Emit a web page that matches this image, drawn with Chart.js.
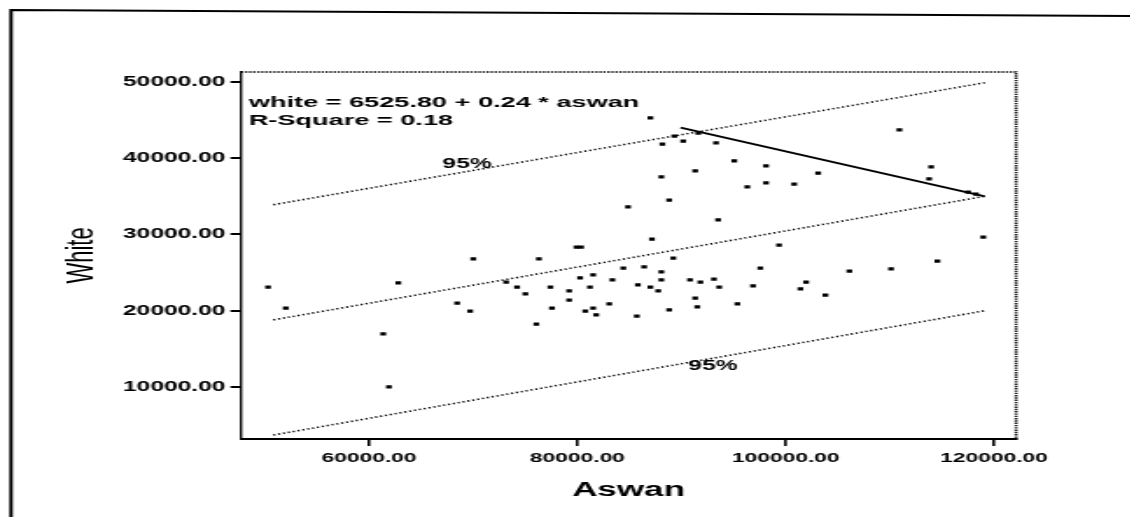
<!DOCTYPE html>
<html lang="en">
<head>
<meta charset="UTF-8" />
<title>White vs Aswan</title>
<script src="https://cdn.jsdelivr.net/npm/chart.js@4.4.1/dist/chart.umd.min.js"></script>
<style>
  html, body { margin: 0; padding: 0; background: #fff; overflow: hidden; }
  /* the scanned chart is stretched sideways, so the whole canvas is too */
  #wrap { width: 646px; height: 517px; transform: scaleX(1.75); transform-origin: 0 0; }
</style>
</head>
<body>
<div id="wrap"><canvas id="myChart" width="646" height="517"></canvas></div>
<script>
// scatter points (Aswan, White)
const aswan = [50300, 52000, 62800, 61350, 61900, 70000, 76300, 79900, 80350, 68450,
  69700, 73150, 74200, 75000, 76050, 77400, 77550, 79200, 79200, 80250,
  81500, 81200, 80750, 81500, 81800, 83050, 83350, 84400, 85800, 85700,
  84850, 87000, 89300, 88150, 90150, 91600, 93300, 95050, 91300, 98100,
  88050, 103100, 98100, 96300, 100800, 88800, 93500, 87150, 99350, 89200,
  110900, 113950, 113750, 117500, 118250, 118950, 114550, 110100, 97550, 86400,
  106100, 88050, 87000, 88050, 87750, 90800, 91800, 93100, 93600, 96850,
  101950, 101400, 103800, 88800, 91300, 91500, 95350];
const white = [23100, 20350, 23650, 16950, 10000, 26800, 26800, 28350, 28350, 21000,
  19950, 23750, 23100, 22200, 18250, 23100, 20350, 22600, 21400, 24300,
  24700, 23100, 19950, 20350, 19450, 20900, 24050, 25600, 23400, 19300,
  33600, 45300, 42900, 41850, 42250, 43300, 42000, 39650, 38350, 39000,
  37550, 38050, 36750, 36250, 36600, 34500, 31900, 29400, 28600, 26900,
  43700, 38850, 37300, 35550, 35300, 29650, 26500, 25500, 25600, 25750,
  25200, 25100, 23100, 24050, 22600, 24050, 23750, 24150, 23100, 23250,
  23750, 22850, 22050, 20100, 21650, 20500, 20900];

// fit line and 95% bands (end points)
const lineX = [50800, 119100];
const fitY = [18800, 35000];
const upperY = [33900, 49900];
const lowerY = [3700, 20000];
// the solid hand-drawn stroke
const strokeX = [89900, 119100];
const strokeY = [44000, 35000];

const xTicks = [60000, 80000, 100000, 120000];
const yTicks = [10000, 20000, 30000, 40000, 50000];

const equation = ['white = 6525.80 + 0.24 * aswan', 'R-Square = 0.18'];
const eqAt = [48450, 48300, 45900];     // x, top of line 1, top of line 2
const bandLabel = '95%';
const upperLabelAt = [69400, 39250];
const lowerLabelAt = [93000, 12750];

const FONT = '"Liberation Sans", Arial, sans-serif';

const pts = (xs, ys) => xs.map((v, i) => ({ x: v, y: ys[i] }));

const dotted = {
  type: 'line', showLine: true, pointRadius: 0, borderColor: '#000',
  borderWidth: 1.6, borderDash: [1.2, 1.7], fill: false
};

const frame = {
  id: 'frame',
  afterDraw(chart) {
    const { ctx, chartArea: a, scales: { x, y } } = chart;
    ctx.save();
    ctx.strokeStyle = '#000';
    // page box
    ctx.lineWidth = 2;
    ctx.beginPath();
    ctx.moveTo(6.3, 517);
    ctx.lineTo(6.3, 10);
    ctx.lineTo(646, 16);
    ctx.stroke();
    // dotted top and right edge of the plot
    ctx.lineWidth = 1.6;
    ctx.setLineDash([1.4, 0.9]);
    ctx.beginPath();
    ctx.moveTo(a.left, a.top);
    ctx.lineTo(a.right, a.top);
    ctx.lineTo(a.right, a.bottom);
    ctx.stroke();
    ctx.setLineDash([]);

    ctx.fillStyle = '#000';
    ctx.font = 'bold 15.5px ' + FONT;
    ctx.textAlign = 'left';
    ctx.textBaseline = 'top';
    ctx.fillText(equation[0], x.getPixelForValue(eqAt[0]), y.getPixelForValue(eqAt[1]));
    ctx.fillText(equation[1], x.getPixelForValue(eqAt[0]), y.getPixelForValue(eqAt[2]));

    ctx.font = 'bold 14px ' + FONT;
    ctx.textAlign = 'center';
    ctx.textBaseline = 'middle';
    ctx.fillText(bandLabel, x.getPixelForValue(upperLabelAt[0]), y.getPixelForValue(upperLabelAt[1]));
    ctx.fillText(bandLabel, x.getPixelForValue(lowerLabelAt[0]), y.getPixelForValue(lowerLabelAt[1]));
    ctx.restore();
  }
};

const ctx = document.getElementById('myChart').getContext('2d');
new Chart(ctx, {
  type: 'scatter',
  data: {
    datasets: [
      { data: pts(aswan, white), pointStyle: 'rect', pointRadius: 2.3,
        backgroundColor: '#000', borderWidth: 0 },
      { ...dotted, data: pts(lineX, fitY) },
      { ...dotted, data: pts(lineX, upperY) },
      { ...dotted, data: pts(lineX, lowerY) },
      { type: 'line', showLine: true, pointRadius: 0, borderColor: '#000',
        borderWidth: 1.8, data: pts(strokeX, strokeY) }
    ]
  },
  options: {
    responsive: false,
    animation: false,
    layout: { padding: { left: 0, top: 72, right: 65.4, bottom: 0 } },
    plugins: { legend: { display: false }, tooltip: { enabled: false } },
    scales: {
      x: {
        type: 'linear', min: 47700, max: 122100,
        afterBuildTicks: s => { s.ticks = xTicks.map(v => ({ value: v })); },
        afterFit: s => { s.height = 78; },
        ticks: { callback: v => v.toFixed(2), color: '#000', padding: 5,
                 maxRotation: 0, font: { family: FONT, size: 13, weight: 'bold' } },
        grid: { drawOnChartArea: false, drawTicks: true, tickLength: 7, color: '#000', lineWidth: 1.6 },
        border: { color: '#000', width: 2 },
        title: { display: true, text: 'Aswan', color: '#000',
                 font: { family: FONT, size: 20, weight: 'bold' }, padding: { top: 0, bottom: 14.5 } }
      },
      y: {
        type: 'linear', min: 3180, max: 51300,
        afterBuildTicks: s => { s.ticks = yTicks.map(v => ({ value: v })); },
        afterFit: s => { s.width = 137.7; },
        ticks: { callback: v => v.toFixed(2), color: '#000', padding: 3,
                 font: { family: FONT, size: 14, weight: 'bold' } },
        grid: { drawOnChartArea: false, drawTicks: true, tickLength: 6, color: '#000', lineWidth: 2 },
        border: { color: '#000', width: 1.4 },
        title: { display: true, text: 'White', color: '#000',
                 font: { family: FONT, size: 22 }, padding: { top: 34, bottom: 0 } }
      }
    }
  },
  plugins: [frame]
});
</script>
</body>
</html>
